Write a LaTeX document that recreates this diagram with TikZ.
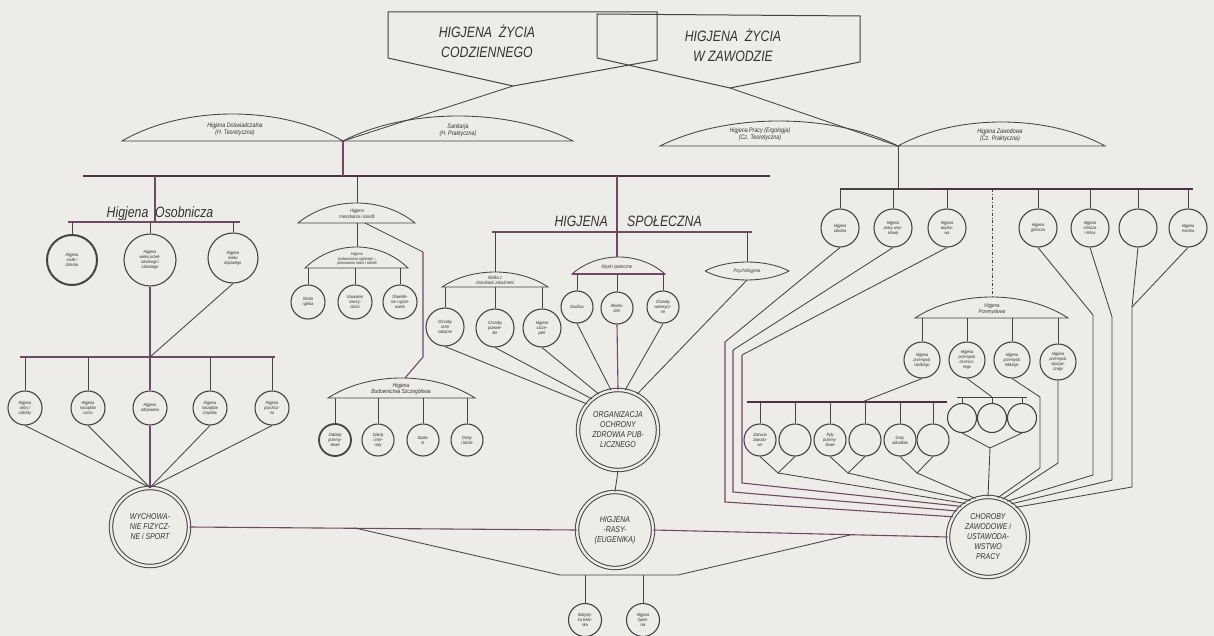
\documentclass[tikz,border=0pt]{standalone}
\usepackage{fontspec}
\setmainfont{Liberation Sans}[FakeStretch=0.82]
\usepackage{tikz}
\usetikzlibrary{positioning}
\definecolor{paper}{HTML}{EDECE8}
\definecolor{lin}{HTML}{474345}
\definecolor{plum}{HTML}{6E4A63}
\definecolor{barc}{HTML}{4B3344}

% dome: x1, x2, base y, peak y
\newcommand{\dome}[4]{%
  \draw[ln] (#1,#3) .. controls ({#1+0.28*(#2-#1)},{#3+(#4-#3)*4/3})
    and ({#2-0.28*(#2-#1)},{#3+(#4-#3)*4/3}) .. (#2,#3) -- cycle;}

\begin{document}
\begin{tikzpicture}[x=1pt, y=-1pt,
    ln/.style={draw=lin, line width=0.85pt},
    pl/.style={draw=plum, line width=1.1pt},
    bar/.style={draw=barc, line width=2.4pt},
    lbl/.style={font=\itshape\fontsize{6.5}{7}\selectfont, text=black!80,
                align=center, inner sep=0pt},
    circ/.style={circle, draw=lin, line width=1.1pt, fill=paper,
                 inner sep=0pt, align=center, minimum size=#1,
                 font=\itshape\fontsize{4.5}{5}\selectfont, text=black!85},
    circ/.default=34pt,
    big/.style={circle, draw=lin, double=paper, double distance=2.4pt,
                line width=1pt, minimum size=78pt, inner sep=0pt,
                align=center, font=\itshape\fontsize{8.5}{10}\selectfont,
                text=black!80},
    head/.style={font=\itshape\fontsize{15}{20}\selectfont, text=black!80,
                 align=center, inner sep=0pt}
  ]
  \fill[paper] (0,0) rectangle (1214,636);
  \useasboundingbox (0,0) rectangle (1214,636);

  % top boxes
  \draw[ln, line width=1pt] (388,12) -- (657,12) -- (657,60) -- (513,86) -- (388,58) -- cycle;
  \draw[ln, line width=1pt] (597,14) -- (860,16) -- (860,62) -- (730,88) -- (597,58) -- cycle;
  \node[head] (codz) at (487,41) {HIGJENA\ \ ŻYCIA\\CODZIENNEGO};
  \node[head] (zaw)  at (733,45) {HIGJENA\ \ ŻYCIA\\W ZAWODZIE};
  \coordinate (apL) at (513,86);
  \coordinate (apR) at (730,88);
  \coordinate (jL) at (343,141);
  \coordinate (jR) at (898,146);
  \draw[ln] (apL) -- (jL);
  \draw[ln] (apR) -- (jR);

  % theory / practice
  \dome{122}{343}{141}{114}
  \dome{343}{573}{141}{116}
  \dome{660}{898}{146}{121}
  \dome{898}{1105}{146}{122}
  \node[lbl] (teor) at (235,129) {Higjena Doświadczalna\\(H. Teoretyczna)};
  \node[lbl] (prak) at (458,130) {Sanitarja\\(H. Praktyczna)};
  \node[lbl] (ergo) at (760,134) {Higjena Pracy (Ergologja)\\(Cz. Teoretyczna)};
  \node[lbl] (zawp) at (1000,135) {Higjena Zawodowa\\(Cz. Praktyczna)};

  % main bars
  \coordinate (mb) at (83,176);
  \coordinate (mbe) at (770,176);
  \draw[bar] (mb) -- (mbe);
  \draw[pl] (jL) -- (jL |- mb);
  \coordinate (rb) at (840,189);
  \coordinate (rbm) at (930,189);
  \coordinate (rbe) at (1193,189);
  \draw[ln, line width=1.1pt] (rb) -- (rbm);
  \draw[bar] (rbm) -- (rbe);
  \draw[ln] (jR) -- (jR |- rb);

  % Higjena Osobnicza
  \coordinate (ob) at (68,222);
  \coordinate (obe) at (240,222);
  \coordinate (oj) at (155,222);
  \draw[pl] (oj |- mb) -- (oj);
  \draw[pl, line width=1.3pt] (ob) -- (obe);
  \node[head, anchor=base] (osob) at (160,218) {Higjena\ \ Osobnicza};
  \node[circ=50pt, line width=2pt] (o1) at (72,260) {Higjena\\matki i\\dziecka};
  \node[circ=52pt] (o2) at (150,260) {Higjena\\wieku przed-\\szkolnego i\\szkolnego};
  \node[circ=50pt] (o3) at (233,258) {Higjena\\wieku\\dojrzałego};
  \draw[ln] (o1.north) -- (o1.north |- ob);
  \draw[ln] (o2.north) -- (o2.north |- ob);
  \draw[ln] (o3.north) -- (o3.north |- ob);

  \coordinate (lb) at (20,357);
  \coordinate (lbe) at (275,357);
  \coordinate (lj) at (150,357);
  \draw[pl] (lb) -- (lbe);
  \draw[pl] (o2.south) -- (lj);
  \draw[ln] (o3.south) -- (lj);
  \node[circ] (f1) at (25,408)  {Higjena\\skóry i\\odzieży};
  \node[circ] (f2) at (88,408)  {Higjena\\narządów\\ruchu};
  \node[circ] (f3) at (150,408) {Higjena\\odżywiania};
  \node[circ] (f4) at (210,408) {Higjena\\narządów\\zmysłów};
  \node[circ] (f5) at (272,408) {Higjena\\psychicz-\\na};
  \draw[ln] (f1.north) -- (f1.north |- lb);
  \draw[ln] (f2.north) -- (f2.north |- lb);
  \draw[pl] (f3.north) -- (f3.north |- lb);
  \draw[ln] (f4.north) -- (f4.north |- lb);
  \draw[ln] (f5.north) -- (f5.north |- lb);
  \node[big] (wyc) at (150,527) {WYCHOWA-\\NIE FIZYCZ-\\NE i SPORT};
  \draw[ln] (f1.south) -- (wyc.north);
  \draw[ln] (f2.south) -- (wyc.north);
  \draw[pl] (f3.south) -- (wyc.north);
  \draw[ln] (f4.south) -- (wyc.north);
  \draw[ln] (f5.south) -- (wyc.north);

  % mieszkania i budownictwo
  \coordinate (mt) at (357,203);
  \coordinate (mbase) at (357,223);
  \coordinate (mt2) at (357,247);
  \coordinate (mb2) at (0,268);
  \draw[ln] (mt |- mb) -- (mt);
  \dome{298}{415}{223}{203}
  \dome{305}{408}{268}{247}
  \draw[ln] (mbase) -- (mt2);
  \node[lbl, font=\itshape\fontsize{5}{5.6}\selectfont] (mies) at (357,214) {Higjena\\mieszkania i osiedli};
  \node[lbl, font=\itshape\fontsize{4.2}{4.8}\selectfont] (bud) at (357,259) {Higjena\\budownictwa ogólnego --\\planowania miast i osiedli};
  \node[circ] (m1) at (308,302) {Woda\\i gleba};
  \node[circ] (m2) at (355,302) {Usuwanie\\nieczy-\\stości};
  \node[circ] (m3) at (400,302) {Oświetle-\\nie i ogrze-\\wanie};
  \draw[ln] (m1.north) -- (m1.north |- mb2);
  \draw[ln] (m2.north) -- (m2.north |- mb2);
  \draw[ln] (m3.north) -- (m3.north |- mb2);
  \coordinate (mx) at (365,223);
  \coordinate (my) at (423,252);
  \coordinate (mz) at (423,357);
  \coordinate (zt) at (405,378);
  \draw[ln] (mx) -- (my);
  \draw[pl] (my) -- (mz) -- (zt);
  \dome{328}{475}{398}{378}
  \coordinate (zb) at (0,398);
  \node[lbl, font=\itshape\fontsize{6}{6.5}\selectfont] (szcz) at (401,389) {Higjena\\Budownictwa Szczegółowa};
  \node[circ=32pt, line width=1.8pt] (z1) at (335,440) {Zakłady\\przemy-\\słowe};
  \node[circ=32pt] (z2) at (378,440) {Szkoły\\i inter-\\naty};
  \node[circ=32pt] (z3) at (423,440) {Szpita-\\le};
  \node[circ=32pt] (z4) at (467,440) {Domy\\i łaźnie};
  \draw[ln] (z1.north) -- (z1.north |- zb);
  \draw[ln] (z2.north) -- (z2.north |- zb);
  \draw[ln] (z3.north) -- (z3.north |- zb);
  \draw[ln] (z4.north) -- (z4.north |- zb);

  % Higjena Spoleczna
  \coordinate (sb) at (492,232);
  \coordinate (sbe) at (752,232);
  \coordinate (kt) at (617,257);
  \draw[pl] (kt |- mb) -- (kt);
  \draw[pl, line width=1.4pt] (sb) -- (sbe);
  \node[head, anchor=base east] (hs1) at (608,227) {HIGJENA};
  \node[head, anchor=base west] (hs2) at (627,227) {SPOŁECZNA};
  \coordinate (wt) at (495,272);
  \coordinate (pt) at (747,262);
  \draw[ln] (wt |- sb) -- (wt);
  \draw[ln] (pt |- sb) -- (pt);
  \dome{442}{548}{287}{272}
  \coordinate (wb) at (0,287);
  \node[lbl, font=\itshape\fontsize{4.8}{5.3}\selectfont] (walka) at (495,280) {Walka z\\chorobami zakaźnemi};
  \dome{572}{665}{274}{257}
  \draw[pl, line width=1.5pt] (572,274) -- (665,274);
  \coordinate (kb) at (0,274);
  \node[lbl, font=\itshape\fontsize{5}{5.5}\selectfont] (klesk) at (617,267) {Klęski społeczne};
  \draw[ln] (705,271) .. controls (728,259) and (766,259) .. (789,271)
            .. controls (766,283) and (728,283) .. (705,271);
  \node[lbl, font=\itshape\fontsize{5}{5.5}\selectfont] (psy) at (747,271) {Psychohigjena};
  \coordinate (pb) at (747,280);
  \node[circ=38pt] (w1) at (445,327) {Choroby\\ostre\\zakaźne};
  \node[circ=38pt] (w2) at (495,328) {Choroby\\przewle-\\kłe};
  \node[circ=38pt] (w3) at (542,328) {Higjena\\szcze-\\pień};
  \draw[ln] (w1.north) -- (w1.north |- wb);
  \draw[ln] (w2.north) -- (w2.north |- wb);
  \draw[ln] (w3.north) -- (w3.north |- wb);
  \node[circ=32pt] (k1) at (577,307) {Gruźlica};
  \node[circ=32pt] (k2) at (617,308) {Alkoho-\\lizm};
  \node[circ=32pt] (k3) at (663,307) {Choroby\\wenerycz-\\ne};
  \draw[ln] (k1.north) -- (k1.north |- kb);
  \draw[ln] (k2.north) -- (k2.north |- kb);
  \draw[ln] (k3.north) -- (k3.north |- kb);
  \node[big, minimum size=80pt] (org) at (618,430) {ORGANIZACJA\\OCHRONY\\ZDROWIA PUB-\\LICZNEGO};
  \draw[ln] (w1.south) -- (org.140);
  \draw[ln] (w2.south) -- (org.130);
  \draw[ln] (w3.south) -- (org.118);
  \draw[ln] (k1.south) -- (org.100);
  \draw[pl] (k2.south) -- (org.north);
  \draw[ln] (k3.south) -- (org.80);
  \draw[ln] (pb) -- (org.62);
  \node[big, minimum size=76pt] (ras) at (615,530) {HIGJENA\\-RASY-\\(EUGENIKA)};
  \draw[ln] (org.south) -- (ras.north);

  % Higjena Zawodowa: right row
  \node[circ=38pt] (r1) at (840,228)  {Higjena\\szkolna};
  \node[circ=38pt] (r2) at (893,228)  {Higjena\\pracy umy-\\słowej};
  \node[circ=38pt] (r3) at (947,228)  {Higjena\\wojsko-\\wa};
  \node[circ=38pt] (r4) at (1038,228) {Higjena\\górnicza};
  \node[circ=38pt] (r5) at (1090,228) {Higjena\\rolnicza\\i leśna};
  \node[circ=38pt] (r6) at (1138,228) {};
  \node[circ=38pt] (r7) at (1188,228) {Higjena\\morska};
  \draw[ln] (r1.north) -- (r1.north |- rb);
  \draw[ln] (r2.north) -- (r2.north |- rb);
  \draw[ln] (r3.north) -- (r3.north |- rb);
  \draw[ln] (r4.north) -- (r4.north |- rb);
  \draw[ln] (r5.north) -- (r5.north |- rb);
  \draw[ln] (r6.north) -- (r6.north |- rb);
  \draw[ln] (r7.north) -- (r7.north |- rb);

  % Higjena Przemyslowa
  \coordinate (pz) at (992,297);
  \draw[ln, dash dot] (pz |- rb) -- (pz);
  \dome{915}{1068}{318}{297}
  \coordinate (pzb) at (0,318);
  \node[lbl, font=\itshape\fontsize{5.5}{6}\selectfont] (prz) at (992,309) {Higjena\\Przemysłowa};
  \node[circ=36pt] (p1) at (922,360)  {Higjena\\przemysłu\\ciężkiego};
  \node[circ=36pt] (p2) at (967,360)  {Higjena\\przemysłu\\chemicz-\\nego};
  \node[circ=36pt] (p3) at (1012,360) {Higjena\\przemysłu\\lekkiego};
  \node[circ=36pt] (p4) at (1058,362) {Higjena\\przemysłu\\spożyw-\\czego};
  \draw[ln] (p1.north) -- (p1.north |- pzb);
  \draw[ln] (p2.north) -- (p2.north |- pzb);
  \draw[ln] (p3.north) -- (p3.north |- pzb);
  \draw[ln] (p4.north) -- (p4.north |- pzb);

  \coordinate (sx) at (747,402);
  \coordinate (sxe) at (947,402);
  \coordinate (sj) at (862,402);
  \draw[bar, line width=2pt] (sx) -- (sxe);
  \draw[ln] (p1.south) -- (sj);
  \node[circ=32pt] (s1) at (760,440) {Zatrucia\\zawodo-\\we};
  \node[circ=32pt] (s2) at (795,440) {};
  \node[circ=32pt] (s3) at (830,440) {Pyły\\przemy-\\słowe};
  \node[circ=32pt] (s4) at (865,440) {};
  \node[circ=32pt] (s5) at (900,440) {Gazy\\szkodliwe};
  \node[circ=32pt] (s6) at (933,440) {};
  \draw[ln] (s1.north) -- (s1.north |- sx);
  \draw[ln] (s2.north) -- (s2.north |- sx);
  \draw[ln] (s3.north) -- (s3.north |- sx);
  \draw[ln] (s4.north) -- (s4.north |- sx);
  \draw[ln] (s5.north) -- (s5.north |- sx);
  \draw[ln] (s6.north) -- (s6.north |- sx);

  \coordinate (tx) at (957,397);
  \coordinate (txe) at (1027,397);
  \coordinate (tj) at (992,397);
  \draw[ln] (tx) -- (txe);
  \draw[ln] (p2.south) -- (tj);
  \node[circ=29pt] (t1) at (962,418)  {};
  \node[circ=29pt] (t2) at (992,418)  {};
  \node[circ=29pt] (t3) at (1022,418) {};
  \draw[ln] (t1.north) -- (t1.north |- tx);
  \draw[ln] (t2.north) -- (t2.north |- tx);
  \draw[ln] (t3.north) -- (t3.north |- tx);

  % Choroby zawodowe
  \node[big, minimum size=80pt] (cho) at (988,537) {CHOROBY\\ZAWODOWE i\\USTAWODA-\\WSTWO\\PRACY};
  \coordinate (v1) at (778,473);
  \coordinate (v2) at (848,473);
  \coordinate (v3) at (917,473);
  \coordinate (v4) at (990,448);
  \draw[ln] (s1.south) -- (v1) -- (s2.south);
  \draw[ln] (s3.south) -- (v2) -- (s4.south);
  \draw[ln] (s5.south) -- (v3) -- (s6.south);
  \draw[ln] (t1.south) -- (v4) -- (t3.south);
  \draw[ln] (v1) -- (cho.124);
  \draw[ln] (v2) -- (cho.116);
  \draw[ln] (v3) -- (cho.108);
  \draw[ln] (v4) -- (cho.north);

  \coordinate (a1) at (725,342);
  \coordinate (a1b) at (725,502);
  \coordinate (a2) at (733,350);
  \coordinate (a2b) at (733,492);
  \coordinate (a3) at (742,355);
  \coordinate (a3b) at (742,483);
  \draw[ln] (r1.south) -- (a1);
  \draw[ln] (r2.south) -- (a2);
  \draw[ln] (r3.south) -- (a3);
  \draw[pl] (a1) -- (a1b) -- (cho.150);
  \draw[pl] (a2) -- (a2b) -- (cho.140);
  \draw[pl] (a3) -- (a3b) -- (cho.131);

  \coordinate (c3) at (1040,397);
  \coordinate (c3b) at (1040,468);
  \coordinate (c4b) at (1058,463);
  \draw[ln] (p3.south) -- (c3) -- (c3b) -- (cho.76);
  \draw[ln] (p4.south) -- (c4b) -- (cho.69);
  \coordinate (e4) at (1093,315);
  \coordinate (e4b) at (1093,475);
  \coordinate (e5) at (1112,317);
  \coordinate (e5b) at (1112,480);
  \coordinate (e6) at (1132,307);
  \coordinate (e6b) at (1132,487);
  \draw[ln] (r4.south) -- (e4) -- (e4b) -- (cho.62);
  \draw[ln] (r5.south) -- (e5) -- (e5b) -- (cho.55);
  \draw[ln] (r6.south) -- (e6);
  \draw[ln] (r7.south) -- (e6);
  \draw[ln] (e6) -- (e6b) -- (cho.47);

  % bottom links
  \draw[pl] (wyc.east) -- (ras.west);
  \draw[pl] (ras.east) -- (cho.west);
  \coordinate (bl) at (355,528);
  \coordinate (bm1) at (560,575);
  \coordinate (bm2) at (678,575);
  \coordinate (br) at (850,535);
  \draw[ln] (bl) -- (bm1) -- (bm2) -- (br);
  \node[circ=33pt] (q1) at (585,620) {Statysty-\\ka lekar-\\ska};
  \node[circ=33pt] (q2) at (643,620) {Higjena\\żywie-\\nia};
  \draw[ln] (q1.north) -- (q1.north |- bm1);
  \draw[ln] (q2.north) -- (q2.north |- bm1);
\end{tikzpicture}
\end{document}
